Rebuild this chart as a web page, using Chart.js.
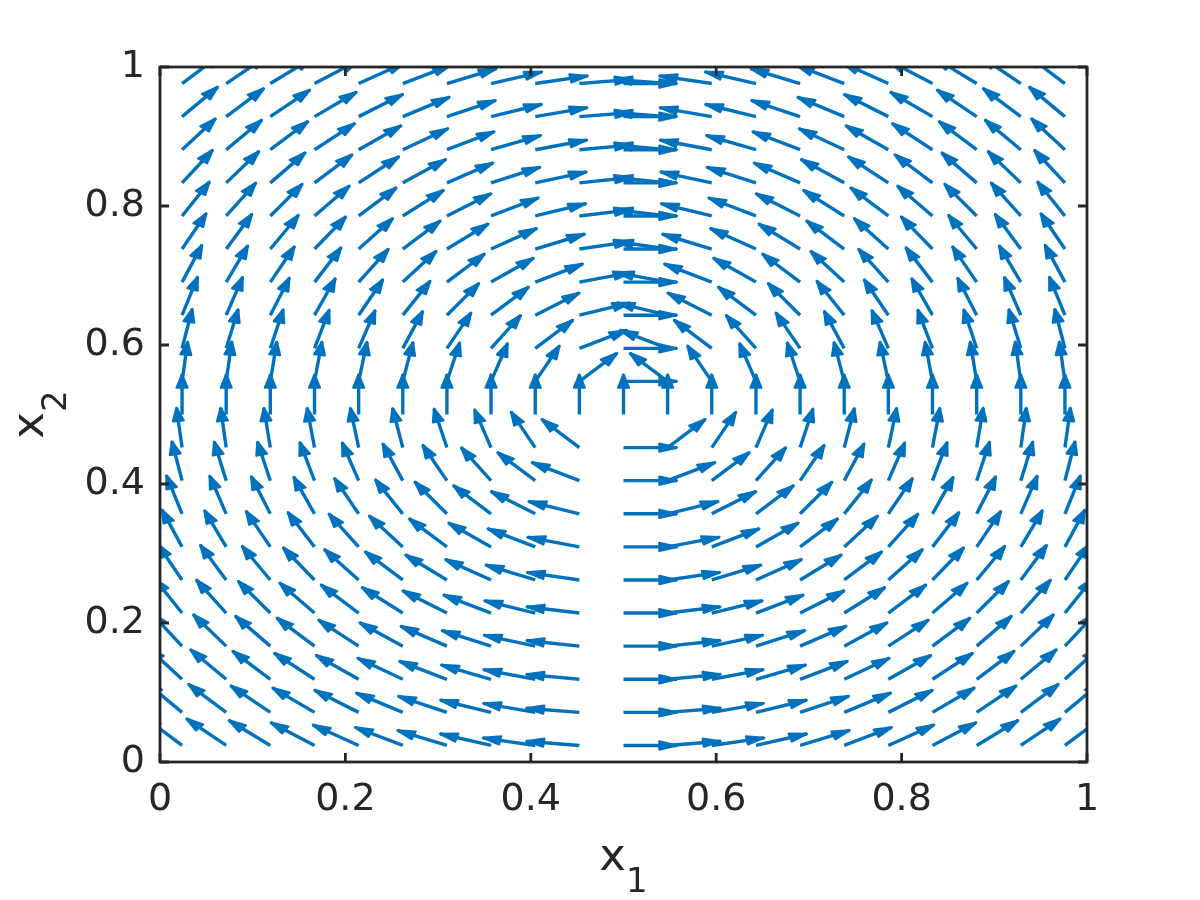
<!DOCTYPE html>
<html><head><meta charset="utf-8">
<script src="https://cdn.jsdelivr.net/npm/chart.js@4.4.1/dist/chart.umd.min.js"></script>
<style>html,body{margin:0;padding:0;background:#fff}canvas{display:block}</style>
</head><body>
<canvas id="c" width="1200" height="900"></canvas>
<script>
// ---- data ----
const xGrid = [0.0238,0.0714,0.1190,0.1667,0.2143,0.2619,0.3095,0.3571,0.4048,0.4524,0.5000,0.5476,0.5952,0.6429,0.6905,0.7381,0.7857,0.8333,0.8810,0.9286,0.9762];
const yGrid = [0.0238,0.0714,0.1190,0.1667,0.2143,0.2619,0.3095,0.3571,0.4048,0.4524,0.5000,0.5476,0.5952,0.6429,0.6905,0.7381,0.7857,0.8333,0.8810,0.9286,0.9762];
// arrow direction (degrees, counter-clockwise from +x); rows from bottom (yGrid[0]) to top
const directionDeg = [
 [135,138,141,145,149,153,158,163,169,174,0,6,11,17,22,27,31,35,39,42,45],
 [132,135,138,142,146,151,156,162,167,174,0,6,13,18,24,29,34,38,42,45,48],
 [129,132,135,139,143,148,153,159,166,173,0,7,14,21,27,32,37,41,45,48,51],
 [125,128,131,135,139,144,150,157,164,172,0,8,16,23,30,36,41,45,49,52,55],
 [121,124,127,131,135,140,146,153,162,171,0,9,18,27,34,40,45,49,53,56,59],
 [117,119,122,126,130,135,141,149,158,169,0,11,22,31,39,45,50,54,58,61,63],
 [112,114,117,120,124,129,135,143,153,166,0,14,27,37,45,51,56,60,63,66,68],
 [107,108,111,113,117,121,127,135,146,162,0,18,34,45,53,59,63,67,69,72,73],
 [101,103,104,106,108,112,117,124,135,153,0,27,45,56,63,68,72,74,76,77,79],
 [96,96,97,98,99,101,104,108,117,135,0,45,63,72,76,79,81,82,83,84,84],
 [90,90,90,90,90,90,90,90,90,90,90,90,90,90,90,90,90,90,90,90,90],
 [84,84,83,82,81,79,76,72,63,45,0,135,117,108,104,101,99,98,97,96,96],
 [79,77,76,74,72,68,63,56,45,27,0,153,135,124,117,112,108,106,104,103,101],
 [73,72,69,67,63,59,53,45,34,18,0,162,146,135,127,121,117,113,111,108,107],
 [68,66,63,60,56,51,45,37,27,14,0,166,153,143,135,129,124,120,117,114,112],
 [63,61,58,54,50,45,39,31,22,11,0,169,158,149,141,135,130,126,122,119,117],
 [59,56,53,49,45,40,34,27,18,9,0,171,162,153,146,140,135,131,127,124,121],
 [55,52,49,45,41,36,30,23,16,8,0,172,164,157,150,144,139,135,131,128,125],
 [51,48,45,41,37,32,27,21,14,7,0,173,166,159,153,148,143,139,135,132,129],
 [48,45,42,38,34,29,24,18,13,6,0,174,167,162,156,151,146,142,138,135,132],
 [45,42,39,35,31,27,22,17,11,6,0,174,169,163,158,153,149,145,141,138,135]
];
const xTickValues = [0,0.2,0.4,0.6,0.8,1];
const xTickLabels = ['0','0.2','0.4','0.6','0.8','1'];
const yTickValues = [0,0.2,0.4,0.6,0.8,1];
const yTickLabels = ['0','0.2','0.4','0.6','0.8','1'];
const xTitle = ['x','1'];
const yTitle = ['x','2'];

// ---- style ----
const ARROW_LEN = 0.0577;
const HEAD_ALPHA = 0.33, HEAD_BETA = 0.31;
const BLUE = '#0072BD', AXIS = '#262626';
const FONT = 'DejaVu Sans';

const points = [];
for (let j = 0; j < yGrid.length; j++) {
  for (let i = 0; i < xGrid.length; i++) {
    const a = directionDeg[j][i] * Math.PI / 180;
    points.push({x: xGrid[i], y: yGrid[j], u: ARROW_LEN * Math.cos(a), v: ARROW_LEN * Math.sin(a)});
  }
}

const quiverPlugin = {
  id: 'quiver',
  afterDatasetsDraw(chart) {
    const {ctx, chartArea: a} = chart;
    const xs = chart.scales.x, ys = chart.scales.y;
    ctx.save();
    ctx.beginPath();
    ctx.rect(a.left, a.top, a.right - a.left, a.bottom - a.top);
    ctx.clip();
    ctx.strokeStyle = BLUE; ctx.fillStyle = BLUE;
    ctx.lineCap = 'butt'; ctx.lineJoin = 'round';
    chart.data.datasets[0].data.forEach(p => {
      const tx = p.x + p.u, ty = p.y + p.v;
      const h1x = tx - HEAD_ALPHA * (p.u + HEAD_BETA * p.v), h1y = ty - HEAD_ALPHA * (p.v - HEAD_BETA * p.u);
      const h2x = tx - HEAD_ALPHA * (p.u - HEAD_BETA * p.v), h2y = ty - HEAD_ALPHA * (p.v + HEAD_BETA * p.u);
      ctx.lineWidth = 3.4;
      ctx.beginPath();
      ctx.moveTo(xs.getPixelForValue(p.x), ys.getPixelForValue(p.y));
      ctx.lineTo(xs.getPixelForValue(tx), ys.getPixelForValue(ty));
      ctx.stroke();
      ctx.beginPath();
      ctx.moveTo(xs.getPixelForValue(h1x), ys.getPixelForValue(h1y));
      ctx.lineTo(xs.getPixelForValue(tx), ys.getPixelForValue(ty));
      ctx.lineTo(xs.getPixelForValue(h2x), ys.getPixelForValue(h2y));
      ctx.closePath();
      ctx.fill();
      ctx.lineWidth = 2.2;
      ctx.stroke();
    });
    ctx.restore();
  }
};

const framePlugin = {
  id: 'frame',
  afterDraw(chart) {
    const {ctx, chartArea: a} = chart;
    const xs = chart.scales.x, ys = chart.scales.y;
    ctx.save();
    ctx.strokeStyle = AXIS; ctx.lineWidth = 2.8; ctx.lineCap = 'butt';
    const TL = 9;
    ctx.beginPath();
    xTickValues.forEach(v => {
      const px = xs.getPixelForValue(v);
      ctx.moveTo(px, a.bottom); ctx.lineTo(px, a.bottom - TL);
      ctx.moveTo(px, a.top); ctx.lineTo(px, a.top + TL);
    });
    yTickValues.forEach(v => {
      const py = ys.getPixelForValue(v);
      ctx.moveTo(a.left, py); ctx.lineTo(a.left + TL, py);
      ctx.moveTo(a.right, py); ctx.lineTo(a.right - TL, py);
    });
    ctx.stroke();
    ctx.strokeRect(a.left, a.top, a.right - a.left, a.bottom - a.top);

    // axis titles with subscripts
    ctx.fillStyle = AXIS;
    ctx.textBaseline = 'alphabetic';
    ctx.textAlign = 'left';
    const mainF = '45px "' + FONT + '"', subF = '34px "' + FONT + '"';
    ctx.font = mainF; const w1 = ctx.measureText(xTitle[0]).width;
    ctx.font = subF; const w2 = ctx.measureText(xTitle[1]).width;
    const cx = (a.left + a.right) / 2;
    let sx = cx - (w1 + w2) / 2;
    ctx.font = mainF; ctx.fillText(xTitle[0], sx, a.bottom + 108);
    ctx.font = subF; ctx.fillText(xTitle[1], sx + w1, a.bottom + 130);

    ctx.font = mainF; const v1 = ctx.measureText(yTitle[0]).width;
    ctx.font = subF; const v2 = ctx.measureText(yTitle[1]).width;
    const cy = (a.top + a.bottom) / 2;
    ctx.translate(0, cy);
    ctx.rotate(-Math.PI / 2);
    let sy = -(v1 + v2) / 2;
    ctx.font = mainF; ctx.fillText(yTitle[0], sy, 43);
    ctx.font = subF; ctx.fillText(yTitle[1], sy + v1, 66);
    ctx.restore();
  }
};

new Chart(document.getElementById('c'), {
  type: 'scatter',
  data: { datasets: [{ data: points, pointRadius: 0, pointHoverRadius: 0, showLine: false }] },
  options: {
    responsive: false, animation: false, devicePixelRatio: 1,
    layout: { padding: { left: 0, top: 67, right: 113, bottom: 0 } },
    plugins: { legend: { display: false }, tooltip: { enabled: false } },
    events: [],
    scales: {
      x: {
        type: 'linear', min: 0, max: 1, position: 'bottom',
        grid: { display: false, drawTicks: false }, border: { display: false },
        afterBuildTicks: s => { s.ticks = xTickValues.map(v => ({ value: v })); },
        ticks: { padding: 15, maxRotation: 0, autoSkip: false, color: AXIS,
                 font: { family: FONT, size: 38 },
                 callback: (v, i) => xTickLabels[i] },
        afterFit: s => { s.height = 138; s.paddingLeft = 0; s.paddingRight = 0; }
      },
      y: {
        type: 'linear', min: 0, max: 1, position: 'left',
        grid: { display: false, drawTicks: false }, border: { display: false },
        afterBuildTicks: s => { s.ticks = yTickValues.map(v => ({ value: v })); },
        ticks: { padding: 15, autoSkip: false, color: AXIS,
                 font: { family: FONT, size: 38 },
                 callback: (v, i) => yTickLabels[i] },
        afterFit: s => { s.width = 160; s.paddingTop = 0; s.paddingBottom = 0; }
      }
    }
  },
  plugins: [quiverPlugin, framePlugin]
});
</script>
</body></html>
